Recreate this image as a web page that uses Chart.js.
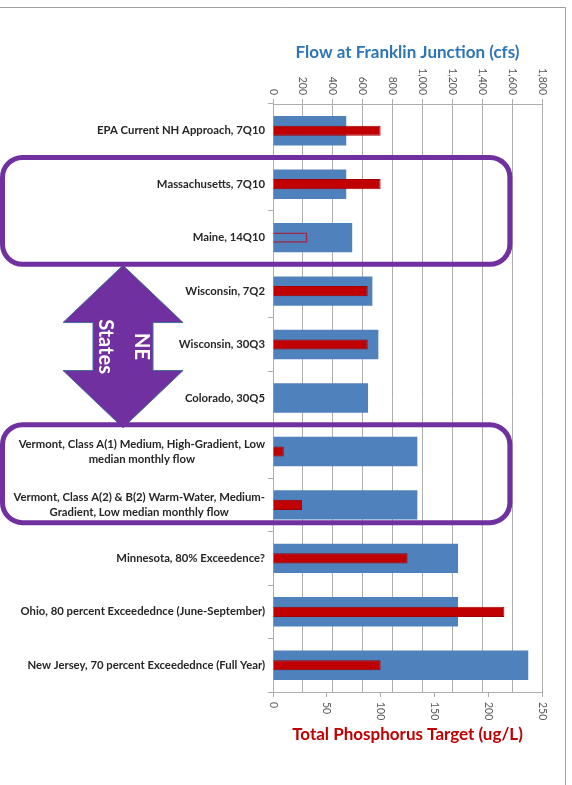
<!DOCTYPE html>
<html>
<head>
<meta charset="utf-8">
<script src="https://cdn.jsdelivr.net/npm/chart.js@4/dist/chart.umd.min.js"></script>
<style>
  html, body { margin: 0; padding: 0; background: #fff; }
  #wrap { width: 572px; height: 785px; position: relative; }
</style>
</head>
<body>
<div id="wrap"><canvas id="chart"></canvas></div>
<script>
const approaches = [
  ['EPA Current NH Approach, 7Q10'],
  ['Massachusetts, 7Q10'],
  ['Maine, 14Q10'],
  ['Wisconsin, 7Q2'],
  ['Wisconsin, 30Q3'],
  ['Colorado, 30Q5'],
  ['Vermont, Class A(1) Medium, High-Gradient, Low', 'median monthly flow'],
  ['Vermont, Class A(2) & B(2) Warm-Water, Medium-', 'Gradient, Low median monthly flow'],
  ['Minnesota, 80% Exceedence?'],
  ['Ohio, 80 percent Exceedednce (June-September)'],
  ['New Jersey, 70 percent Exceedednce (Full Year)']
];
const flowCfs = [490, 490, 530, 665, 705, 636, 966, 966, 1238, 1238, 1708];
const phosphorusUgL = [100, 100, 32, 88, 88, null, 10, 27, 125, 215, 100];
const flowTicks = [0, 200, 400, 600, 800, 1000, 1200, 1400, 1600, 1800];
const phosTicks = [0, 50, 100, 150, 200, 250];

// Maine's target is shown as an outline only
const hollowIndex = 2;
// NE state groups (category index ranges) boxed in purple
const groups = [[1, 2], [6, 7]];

const FONT = 'Lato, "Open Sans", sans-serif';
const PURPLE = '#7030A0';
const GRID = '#ADADAD';

// rotated tick labels, category labels and the purple call-outs
const overlay = {
  id: 'overlay',
  beforeDraw(chart) {
    const c = chart.ctx;
    c.save();
    c.fillStyle = '#fff';
    c.fillRect(0, 0, chart.width, chart.height);
    c.strokeStyle = '#A0A0A0';
    c.lineWidth = 1;
    c.beginPath();
    c.moveTo(0, 7.5); c.lineTo(565.5, 7.5); c.lineTo(565.5, chart.height);
    c.stroke();
    c.restore();
  },
  afterDraw(chart) {
    const c = chart.ctx;
    const {x, x2, y} = chart.scales;
    c.save();

    // axis tick labels, read top-to-bottom
    c.fillStyle = '#595959';
    c.font = '10.5px ' + FONT;
    c.textBaseline = 'middle';
    flowTicks.forEach(v => {
      c.save();
      c.translate(x2.getPixelForValue(v), x2.bottom - 9);
      c.rotate(Math.PI / 2);
      c.textAlign = 'right';
      c.fillText(v.toLocaleString('en-US'), 0, 0);
      c.restore();
    });
    phosTicks.forEach(v => {
      c.save();
      c.translate(x.getPixelForValue(v), x.top + 10);
      c.rotate(Math.PI / 2);
      c.textAlign = 'left';
      c.fillText(v.toLocaleString('en-US'), 0, 0);
      c.restore();
    });

    // category labels: block right-aligned, lines centred within it
    c.fillStyle = '#262626';
    c.font = 'bold 11.3px ' + FONT;
    c.textAlign = 'center';
    const right = y.right - 8;
    approaches.forEach((lines, i) => {
      const cy = y.getPixelForValue(i);
      const w = Math.max(...lines.map(s => c.measureText(s).width));
      lines.forEach((s, k) => {
        c.fillText(s, right - w / 2, cy + (k - (lines.length - 1) / 2) * 15);
      });
    });

    // group boxes
    const step = y.getPixelForValue(1) - y.getPixelForValue(0);
    const boxRight = x2.getPixelForValue(1585);
    const boxes = groups.map(([a, b], n) => ({
      top: y.getPixelForValue(a) - step / 2,
      bottom: y.getPixelForValue(b) + step / 2 - (n === 1 ? 9 : 0)
    }));

    // double arrow between the two boxes
    const cx = 123;
    const t = boxes[0].bottom + 1, b = boxes[1].top + 3;
    const mid = (t + b) / 2;
    c.beginPath();
    c.moveTo(cx, t);
    c.lineTo(cx + 60, mid - 24);
    c.lineTo(cx + 30, mid - 24);
    c.lineTo(cx + 30, mid + 24);
    c.lineTo(cx + 60, mid + 24);
    c.lineTo(cx, b);
    c.lineTo(cx - 60, mid + 24);
    c.lineTo(cx - 30, mid + 24);
    c.lineTo(cx - 30, mid - 24);
    c.lineTo(cx - 60, mid - 24);
    c.closePath();
    c.fillStyle = PURPLE;
    c.fill();
    c.strokeStyle = '#41719C';
    c.lineWidth = 1;
    c.stroke();

    c.save();
    c.translate(cx, mid);
    c.rotate(Math.PI / 2);
    c.fillStyle = '#fff';
    c.font = 'bold 20px ' + FONT;
    c.textAlign = 'center';
    c.textBaseline = 'middle';
    c.fillText('NE', 0, -18);
    c.fillText('States', 0, 18);
    c.restore();

    c.strokeStyle = PURPLE;
    c.lineWidth = 5;
    boxes.forEach(bx => {
      c.beginPath();
      c.roundRect(2.5, bx.top, boxRight - 2.5, bx.bottom - bx.top, 20);
      c.stroke();
    });

    c.restore();
  }
};

new Chart(document.getElementById('chart'), {
  type: 'bar',
  data: {
    labels: approaches,
    datasets: [
      {
        label: 'Total Phosphorus Target (ug/L)',
        data: phosphorusUgL,
        xAxisID: 'x',
        order: 0,
        grouped: false,
        categoryPercentage: 1,
        barPercentage: 0.19,
        backgroundColor: ctx => ctx.dataIndex === hollowIndex ? 'rgba(0,0,0,0)' : '#C00000',
        borderColor: ctx => ctx.dataIndex === hollowIndex ? '#A0284A' : '#A00000',
        borderWidth: ctx => ctx.dataIndex === hollowIndex ? 1.5 : 1
      },
      {
        label: 'Flow at Franklin Junction (cfs)',
        data: flowCfs,
        xAxisID: 'x2',
        order: 1,
        grouped: false,
        categoryPercentage: 1,
        barPercentage: 0.55,
        backgroundColor: '#4F81BD'
      }
    ]
  },
  options: {
    indexAxis: 'y',
    responsive: true,
    maintainAspectRatio: false,
    animation: false,
    layout: { padding: { left: 0, right: 30, top: 0, bottom: 0 } },
    plugins: { legend: { display: false }, tooltip: { enabled: false } },
    scales: {
      y: {
        type: 'category',
        afterFit: s => { s.width = 273; },
        ticks: { display: false },
        grid: { offset: true, drawOnChartArea: false, drawTicks: true, tickLength: 5, color: GRID },
        border: { display: true, color: GRID }
      },
      x2: {
        position: 'top',
        min: 0, max: 1800,
        afterFit: s => { s.height = 104; },
        ticks: { display: false, stepSize: 200 },
        grid: { color: GRID, drawTicks: true, tickLength: 5 },
        border: { display: true, color: GRID },
        title: {
          display: true,
          text: 'Flow at Franklin Junction (cfs)',
          color: '#2E75B6',
          font: { family: FONT, size: 17, weight: 'bold' },
          padding: { top: 42, bottom: 0 }
        }
      },
      x: {
        position: 'bottom',
        min: 0, max: 250,
        afterFit: s => { s.height = 93; },
        ticks: { display: false, stepSize: 50 },
        grid: { drawOnChartArea: false, drawTicks: true, tickLength: 5, color: GRID },
        border: { display: true, color: GRID },
        title: {
          display: true,
          text: 'Total Phosphorus Target (ug/L)',
          color: '#C00000',
          font: { family: FONT, size: 17, weight: 'bold' },
          padding: { top: 0, bottom: 40 }
        }
      }
    }
  },
  plugins: [overlay]
});
</script>
</body>
</html>
